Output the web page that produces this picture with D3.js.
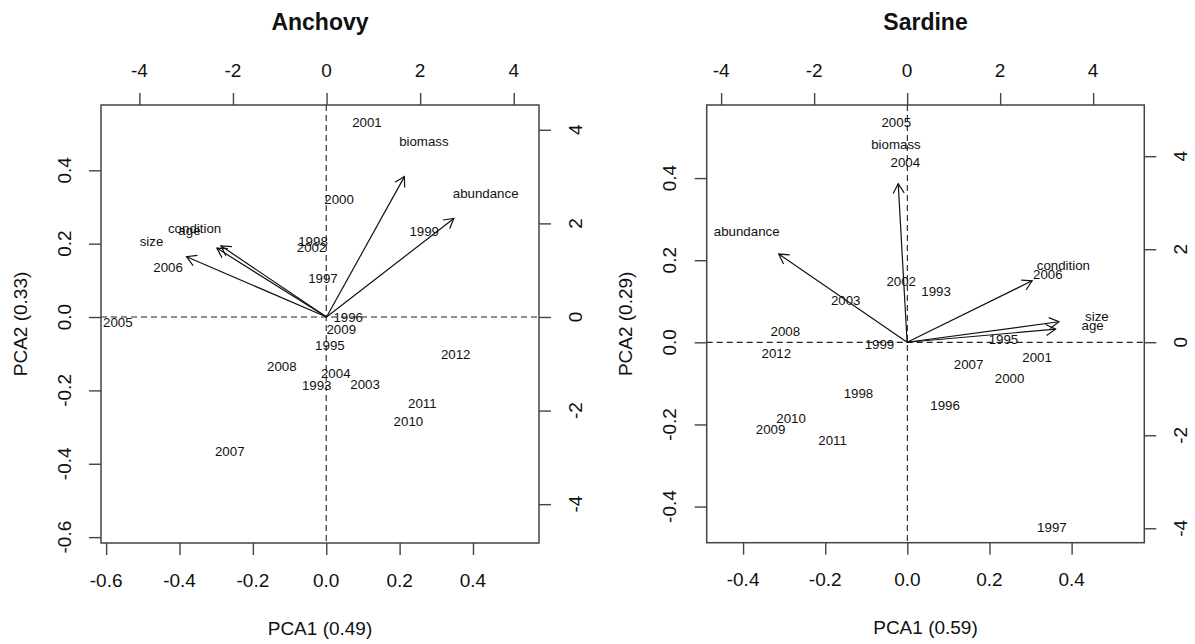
<!DOCTYPE html>
<html>
<head>
<meta charset="utf-8">
<script src="https://cdn.jsdelivr.net/npm/d3@7/dist/d3.min.js"></script>
<style>
  html, body { margin: 0; padding: 0; background: #fff; }
  svg { display: block; }
  text { font-family: "Liberation Sans", Arial, sans-serif; fill: #111; }
</style>
</head>
<body>
<svg id="chart" width="1195" height="644"></svg>
<script>
// ---------------- DATA ----------------
const years = [1993,1995,1996,1997,1998,1999,2000,2001,2002,2003,2004,2005,2006,2007,2008,2009,2010,2011,2012];
const variables = ["abundance","biomass","size","age","condition"];

// Anchovy: year scores (bottom / left axes)
const anchovyPC1 = [-0.026,0.010,0.060,-0.009,-0.036,0.267,0.035,0.111,-0.040,0.106,0.026,-0.568,-0.431,-0.263,-0.121,0.041,0.224,0.262,0.353];
const anchovyPC2 = [-0.188,-0.078,-0.001,0.105,0.205,0.232,0.321,0.531,0.189,-0.184,-0.153,-0.016,0.134,-0.367,-0.135,-0.035,-0.285,-0.236,-0.101];
// Anchovy: variable loadings (top / right axes)
const anchovyLoad1 = [3.40,2.08,-3.74,-2.93,-2.82];
const anchovyLoad2 = [2.63,3.75,1.61,1.84,1.90];

// Sardine: year scores (bottom / left axes)
const sardinePC1 = [0.070,0.234,0.092,0.352,-0.119,-0.068,0.249,0.316,-0.015,-0.150,-0.005,-0.027,0.342,0.149,-0.297,-0.333,-0.283,-0.182,-0.319];
const sardinePC2 = [0.123,0.008,-0.155,-0.452,-0.124,-0.005,-0.089,-0.038,0.149,0.103,0.438,0.536,0.164,-0.055,0.026,-0.212,-0.185,-0.239,-0.027];
// Sardine: variable loadings (top / right axes)
const sardineLoad1 = [-3.45,-0.24,4.08,3.99,3.36];
const sardineLoad2 = [2.37,4.26,0.55,0.35,1.65];

// Tick values
const anchovyTicksPrimary = [-0.6,-0.4,-0.2,0.0,0.2,0.4];
const sardineTicksPrimary = [-0.4,-0.2,0.0,0.2,0.4];
const ticksSecondary = [-4,-2,0,2,4];

// ---------------- LAYOUT ----------------
const svg = d3.select("#chart");
const FONT_AXIS = 19, FONT_PT = 13.3, FONT_TITLE = 23;
const TICK = 12, LABEL_OFF = 37, TITLE_OFF = 85;

const panels = [
  {
    title: "Anchovy", xlab: "PCA1 (0.49)", ylab: "PCA2 (0.33)",
    box: {x0: 101, x1: 539, y0: 105, y1: 543},
    xlim: [-0.614, 0.580], ylim: [-0.616, 0.578],
    xlim2: [-4.82, 4.54], ylim2: [-4.83, 4.53],
    pc1: anchovyPC1, pc2: anchovyPC2, l1: anchovyLoad1, l2: anchovyLoad2,
    ticks: anchovyTicksPrimary
  },
  {
    title: "Sardine", xlab: "PCA1 (0.59)", ylab: "PCA2 (0.29)",
    box: {x0: 706.7, x1: 1144.3, y0: 105, y1: 542.7},
    xlim: [-0.4886, 0.577], ylim: [-0.488, 0.578],
    xlim2: [-4.31, 5.10], ylim2: [-4.31, 5.10],
    pc1: sardinePC1, pc2: sardinePC2, l1: sardineLoad1, l2: sardineLoad2,
    ticks: sardineTicksPrimary
  }
];

const fmt1 = d => d.toFixed(1);
const fmt0 = d => String(d);

panels.forEach(p => {
  const b = p.box;
  const x = d3.scaleLinear().domain(p.xlim).range([b.x0, b.x1]);
  const y = d3.scaleLinear().domain(p.ylim).range([b.y1, b.y0]);
  const x2 = d3.scaleLinear().domain(p.xlim2).range([b.x0, b.x1]);
  const y2 = d3.scaleLinear().domain(p.ylim2).range([b.y1, b.y0]);
  const g = svg.append("g");

  // dashed reference lines
  g.append("line").attr("x1", b.x0).attr("x2", b.x1).attr("y1", y(0)).attr("y2", y(0))
    .attr("stroke", "#222").attr("stroke-width", 1.1).attr("stroke-dasharray", "6,4");
  g.append("line").attr("x1", x(0)).attr("x2", x(0)).attr("y1", b.y0).attr("y2", b.y1)
    .attr("stroke", "#222").attr("stroke-width", 1.1).attr("stroke-dasharray", "6,4");

  // axes ticks via d3 axes
  const styleAxis = sel => {
    sel.select(".domain").remove();
    sel.selectAll(".tick line").attr("stroke", "#444").attr("stroke-width", 1.4);
    sel.selectAll(".tick text").remove();
  };
  g.append("g").attr("transform", `translate(0,${b.y1})`)
    .call(d3.axisBottom(x).tickValues(p.ticks).tickSize(TICK).tickFormat("")).call(styleAxis);
  g.append("g").attr("transform", `translate(${b.x0},0)`)
    .call(d3.axisLeft(y).tickValues(p.ticks).tickSize(TICK).tickFormat("")).call(styleAxis);
  g.append("g").attr("transform", `translate(0,${b.y0})`)
    .call(d3.axisTop(x2).tickValues(ticksSecondary).tickSize(TICK).tickFormat("")).call(styleAxis);
  g.append("g").attr("transform", `translate(${b.x1},0)`)
    .call(d3.axisRight(y2).tickValues(ticksSecondary).tickSize(TICK).tickFormat("")).call(styleAxis);

  // tick labels
  g.selectAll(".tb").data(p.ticks).join("text")
    .attr("x", d => x(d)).attr("y", b.y1 + LABEL_OFF)
    .attr("text-anchor", "middle").attr("dominant-baseline", "central")
    .attr("font-size", FONT_AXIS).text(fmt1);
  g.selectAll(".tl").data(p.ticks).join("text")
    .attr("transform", d => `translate(${b.x0 - LABEL_OFF},${y(d)}) rotate(-90)`)
    .attr("text-anchor", "middle").attr("dominant-baseline", "central")
    .attr("font-size", FONT_AXIS).text(fmt1);
  g.selectAll(".tt").data(ticksSecondary).join("text")
    .attr("x", d => x2(d)).attr("y", b.y0 - LABEL_OFF + 2)
    .attr("text-anchor", "middle").attr("dominant-baseline", "central")
    .attr("font-size", FONT_AXIS).text(fmt0);
  g.selectAll(".tr").data(ticksSecondary).join("text")
    .attr("transform", d => `translate(${b.x1 + LABEL_OFF - 1},${y2(d)}) rotate(-90)`)
    .attr("text-anchor", "middle").attr("dominant-baseline", "central")
    .attr("font-size", FONT_AXIS).text(fmt0);

  // box
  g.append("rect").attr("x", b.x0).attr("y", b.y0)
    .attr("width", b.x1 - b.x0).attr("height", b.y1 - b.y0)
    .attr("fill", "none").attr("stroke", "#444").attr("stroke-width", 1.5);

  // axis titles
  const cx = (b.x0 + b.x1) / 2, cy = (b.y0 + b.y1) / 2;
  g.append("text").attr("x", cx).attr("y", b.y1 + TITLE_OFF)
    .attr("text-anchor", "middle").attr("dominant-baseline", "central")
    .attr("font-size", FONT_AXIS).text(p.xlab);
  g.append("text").attr("transform", `translate(${b.x0 - 81},${cy}) rotate(-90)`)
    .attr("text-anchor", "middle").attr("dominant-baseline", "central")
    .attr("font-size", FONT_AXIS).text(p.ylab);
  g.append("text").attr("x", cx).attr("y", b.y0 - TITLE_OFF + 2)
    .attr("text-anchor", "middle").attr("dominant-baseline", "central")
    .attr("font-size", FONT_TITLE).attr("font-weight", "bold").text(p.title);

  // variable arrows (0.8 of loading position, as in biplot)
  const ox = x2(0), oy = y2(0);
  const loads = variables.map((v, i) => ({v, a: p.l1[i], b: p.l2[i]}));
  loads.forEach(d => {
    const tx = x2(d.a * 0.8), ty = y2(d.b * 0.8);
    g.append("line").attr("x1", ox).attr("y1", oy).attr("x2", tx).attr("y2", ty)
      .attr("stroke", "#111").attr("stroke-width", 1.2);
    const ang = Math.atan2(ty - oy, tx - ox);
    const L = 11, A = Math.PI / 6;
    const p1 = [tx - L * Math.cos(ang - A), ty - L * Math.sin(ang - A)];
    const p2 = [tx - L * Math.cos(ang + A), ty - L * Math.sin(ang + A)];
    g.append("path").attr("d", `M${p1[0]},${p1[1]}L${tx},${ty}L${p2[0]},${p2[1]}`)
      .attr("fill", "none").attr("stroke", "#111").attr("stroke-width", 1.2);
  });
  g.selectAll(".vl").data(loads).join("text")
    .attr("x", d => x2(d.a)).attr("y", d => y2(d.b))
    .attr("text-anchor", "middle").attr("dominant-baseline", "central")
    .attr("font-size", FONT_PT).text(d => d.v);

  // year labels
  const pts = years.map((yr, i) => ({yr, a: p.pc1[i], b: p.pc2[i]}));
  g.selectAll(".yl").data(pts).join("text")
    .attr("x", d => x(d.a)).attr("y", d => y(d.b))
    .attr("text-anchor", "middle").attr("dominant-baseline", "central")
    .attr("font-size", FONT_PT).text(d => d.yr);
});
</script>
</body>
</html>
